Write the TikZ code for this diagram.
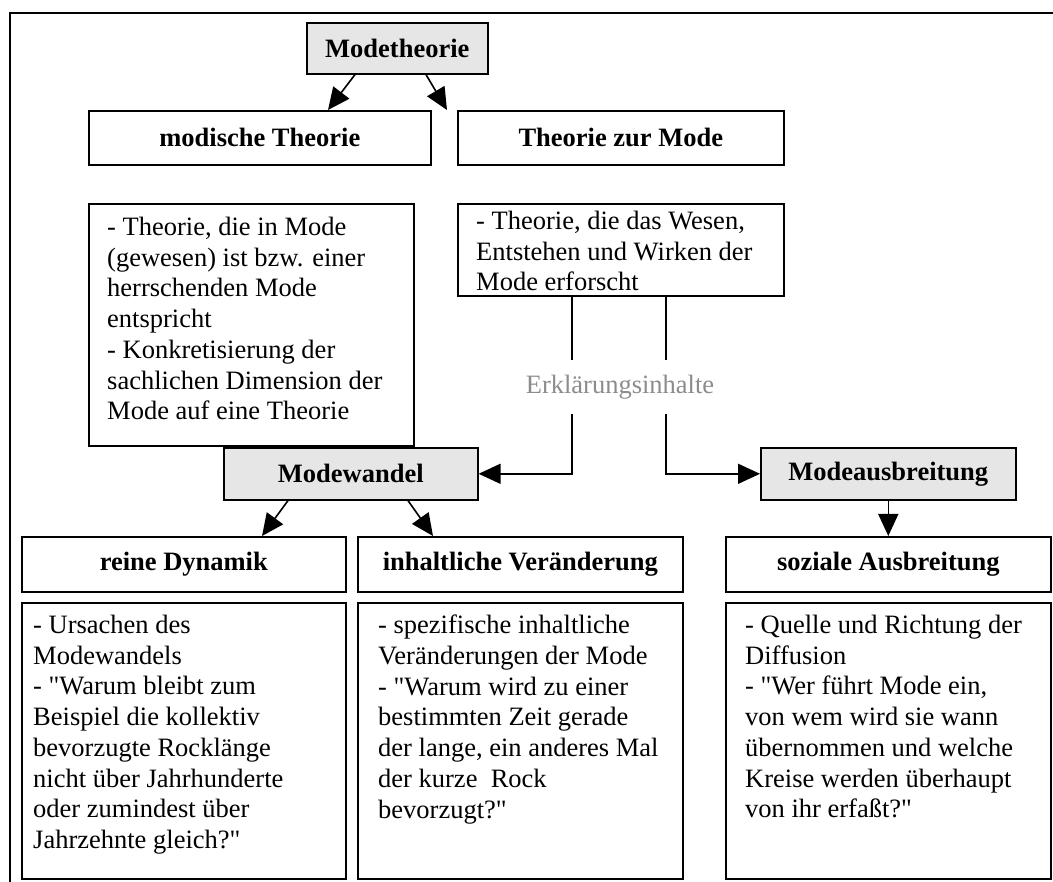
\documentclass[tikz,border=0pt]{standalone}
\usepackage{fontspec}
\setmainfont{Liberation Serif}[Ligatures=TeXOff]
\usetikzlibrary{arrows.meta,calc}
\definecolor{boxgrey}{HTML}{E6E6E6}
\definecolor{labelgrey}{HTML}{8C8C8C}
\begin{document}
\begin{tikzpicture}[x=1pt,y=-1pt,
  box/.style={draw, line width=1.6pt, inner sep=0pt, anchor=north west},
  head/.style={box, font=\fontsize{26.5}{30.5}\selectfont\bfseries},
  greyhead/.style={head, fill=boxgrey},
  body/.style={anchor=north west, inner sep=0pt, align=left,
    font=\fontsize{26.5}{30.7}\selectfont},
  arr/.style={line width=1.6pt, -{Triangle[length=22pt,width=20pt]}},
  link/.style={line width=1.6pt}]
\useasboundingbox (0,0) rectangle (1053,882);

% page frame
\draw[line width=2pt] (10,882) -- (10,13) -- (1053,13);

% top level
\node[greyhead, minimum width=181pt, minimum height=51pt] (theory) at (306,22) {Modetheorie};

\node[head, minimum width=342pt, minimum height=54pt] (modisch) at (88,110) {modische Theorie};
\node[head, minimum width=326pt, minimum height=54pt] (zurmode) at (457,110) {Theorie zur Mode};

\node[box, minimum width=325pt, minimum height=242pt] (modischbox) at (88,203) {};
\node[body] (modischtext) at (107,217) {- Theorie, die in Mode\\(gewesen) ist bzw. einer\\herrschenden Mode\\entspricht\\- Konkretisierung der\\sachlichen Dimension der\\Mode auf eine Theorie};

\node[box, minimum width=326pt, minimum height=92pt] (zurmodebox) at (457,203) {};
\node[body] (zurmodetext) at (476,211) {- Theorie, die das Wesen,\\Entstehen und Wirken der\\Mode erforscht};

\draw[arr] ($(theory.south west)+(49,0)$) -- ($(modisch.north west)+(240,0)$);
\draw[arr] ($(theory.south west)+(120,0)$) -- ($(zurmode.north west)+(-10,0)$);

% explanation contents
\node[inner sep=0pt, minimum height=54pt, text=labelgrey,
  font=\fontsize{26.5}{30.5}\selectfont] (inhalt) at (620,387) {Erklärungsinhalte};

\node[greyhead, minimum width=254pt, minimum height=52pt] (wandel) at (223,447) {Modewandel};
\node[greyhead, minimum width=255pt, minimum height=52pt] (ausbr) at (760,447) {Modeausbreitung};

\draw[link] ($(zurmodebox.south west)+(115,0)$) coordinate (dropl) -- (dropl |- inhalt.north);
\draw[arr] (dropl |- inhalt.south) |- (wandel.east);
\draw[link] ($(zurmodebox.south west)+(209,0)$) coordinate (dropr) -- (dropr |- inhalt.north);
\draw[arr] (dropr |- inhalt.south) |- (ausbr.west);

% lower level
\node[head, minimum width=324pt, minimum height=55pt] (dynamik) at (21,536) {reine Dynamik};
\node[head, minimum width=325pt, minimum height=55pt] (inhaltl) at (357,536) {inhaltliche Veränderung};
\node[head, minimum width=325pt, minimum height=55pt] (sozial) at (725,536) {soziale Ausbreitung};

\draw[arr] ($(wandel.south west)+(65,0)$) -- ($(dynamik.north west)+(241,0)$);
\draw[arr] ($(wandel.south west)+(185,0)$) -- ($(inhaltl.north west)+(76,0)$);
\draw[arr] (ausbr.south -| sozial.north) -- (sozial.north);

\node[box, minimum width=324pt, minimum height=276pt] (dynamikbox) at (21,602) {};
\node[body] (dynamiktext) at (33,615) {- Ursachen des\\Modewandels\\- "Warum bleibt zum\\Beispiel die kollektiv\\bevorzugte Rocklänge\\nicht über Jahrhunderte\\oder zumindest über\\Jahrzehnte gleich?"};

\node[box, minimum width=325pt, minimum height=276pt] (inhaltlbox) at (357,602) {};
\node[body] (inhaltltext) at (378,615) {- spezifische inhaltliche\\Veränderungen der Mode\\- "Warum wird zu einer\\bestimmten Zeit gerade\\der lange, ein anderes Mal\\der kurze\ \ Rock\\bevorzugt?"};

\node[box, minimum width=325pt, minimum height=276pt] (sozialbox) at (725,602) {};
\node[body] (sozialtext) at (745,615) {- Quelle und Richtung der\\Diffusion\\- "Wer führt Mode ein,\\von wem wird sie wann\\übernommen und welche\\Kreise werden überhaupt\\von ihr erfaßt?"};
\end{tikzpicture}
\end{document}
